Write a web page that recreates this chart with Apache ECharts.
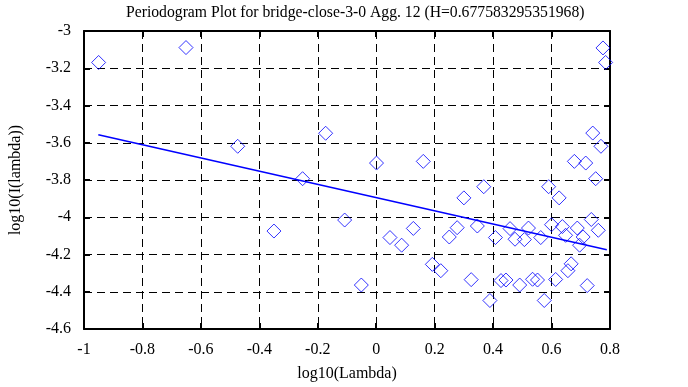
<!DOCTYPE html>
<html>
<head>
<meta charset="utf-8">
<script src="https://cdn.jsdelivr.net/npm/echarts@6/dist/echarts.min.js"></script>
<style>
html,body{margin:0;padding:0;background:#fff;}
#chart{width:688px;height:387px;}
</style>
</head>
<body>
<div id="chart"></div>
<script>
// log10(Lambda) values of the periodogram points
const logLambda = [
  -0.950, -0.651, -0.474, -0.350, -0.252, -0.173, -0.108, -0.051, 0.001, 0.047,
  0.087, 0.127, 0.161, 0.192, 0.221, 0.250, 0.277, 0.300, 0.325, 0.346,
  0.368, 0.389, 0.408, 0.427, 0.444, 0.458, 0.475, 0.491, 0.507, 0.521,
  0.535, 0.552, 0.563, 0.575, 0.590, 0.600, 0.614, 0.626, 0.637, 0.648,
  0.656, 0.667, 0.678, 0.688, 0.696, 0.708, 0.717, 0.722, 0.736, 0.741,
  0.751, 0.760, 0.769, 0.776, 0.785
];
// log10(I(lambda)) values
const logI = [
  -3.169, -3.089, -3.619, -4.074, -3.793, -3.549, -4.015, -4.364, -3.709, -4.109,
  -4.150, -4.060, -3.700, -4.253, -4.287, -4.106, -4.056, -3.896, -4.335, -4.047,
  -3.836, -4.447, -4.109, -4.340, -4.337, -4.061, -4.118, -4.364, -4.120, -4.058,
  -4.333, -4.337, -4.109, -4.447, -3.836, -4.040, -4.334, -3.896, -4.050, -4.097,
  -4.287, -4.250, -3.700, -4.058, -4.150, -4.106, -3.709, -4.367, -4.012, -3.548,
  -3.793, -4.070, -3.619, -3.091, -3.169
];
// fitted regression line endpoints
const fitX = [-0.951, 0.789];
const fitY = [-3.557, -4.175];

const titleText = 'Periodogram Plot for bridge-close-3-0 Agg. 12 (H=0.677583295351968)';
const xName = 'log10(Lambda)';
const yName = 'log10(I(lambda))';

const FONT = '"Liberation Serif", "DejaVu Serif", serif';
const chart = echarts.init(document.getElementById('chart'), null, {renderer: 'canvas'});

const scatterData = logLambda.map((x, i) => [x, logI[i]]);
const fitData = fitX.map((x, i) => [x, fitY[i]]);

const baseX = {
  type: 'value', min: -1, max: 0.8, interval: 0.2,
  axisLine: {show: true, onZero: false, lineStyle: {color: '#000', width: 2}},
  axisTick: {show: true, inside: true, length: 6, lineStyle: {color: '#000', width: 2}},
};
const baseY = {
  type: 'value', min: -4.6, max: -3, interval: 0.2,
  axisLine: {show: true, onZero: false, lineStyle: {color: '#000', width: 2}},
  axisTick: {show: true, inside: true, length: 6, lineStyle: {color: '#000', width: 2}},
};

chart.setOption({
  animation: false,
  backgroundColor: '#fff',
  title: {
    text: titleText, left: 121, top: 0,
    textStyle: {fontFamily: FONT, fontSize: 15.7, fontWeight: 'normal', color: '#000'}
  },
  grid: {left: 82, right: 78, top: 31, bottom: 56, containLabel: false},
  xAxis: [
    Object.assign({}, baseX, {
      position: 'bottom',
      name: xName, nameLocation: 'middle', nameGap: 37,
      nameTextStyle: {fontFamily: FONT, fontSize: 16, color: '#000'},
      axisLabel: {fontFamily: FONT, fontSize: 16, color: '#000', margin: 13},
      splitLine: {show: true, lineStyle: {color: '#000', width: 1, type: [8, 5]}}
    }),
    Object.assign({}, baseX, {
      position: 'top', axisLabel: {show: false}, splitLine: {show: false}
    })
  ],
  yAxis: [
    Object.assign({}, baseY, {
      position: 'left',
      name: yName, nameLocation: 'middle', nameGap: 60, nameRotate: 90,
      nameTextStyle: {fontFamily: FONT, fontSize: 16, color: '#000'},
      axisLabel: {fontFamily: FONT, fontSize: 16, color: '#000', margin: 13},
      splitLine: {show: true, lineStyle: {color: '#000', width: 1, type: [8, 5]}}
    }),
    Object.assign({}, baseY, {
      position: 'right', axisLabel: {show: false}, splitLine: {show: false}
    })
  ],
  series: [
    {
      type: 'scatter', xAxisIndex: 0, yAxisIndex: 0,
      data: scatterData, symbol: 'diamond', symbolSize: 14,
      itemStyle: {color: 'rgba(0,0,0,0)', borderColor: '#0000ff', borderWidth: 1},
      z: 3
    },
    {
      type: 'line', xAxisIndex: 0, yAxisIndex: 0,
      data: fitData, symbol: 'none',
      lineStyle: {color: '#0000ff', width: 1.5},
      z: 4
    }
  ]
});
</script>
</body>
</html>
